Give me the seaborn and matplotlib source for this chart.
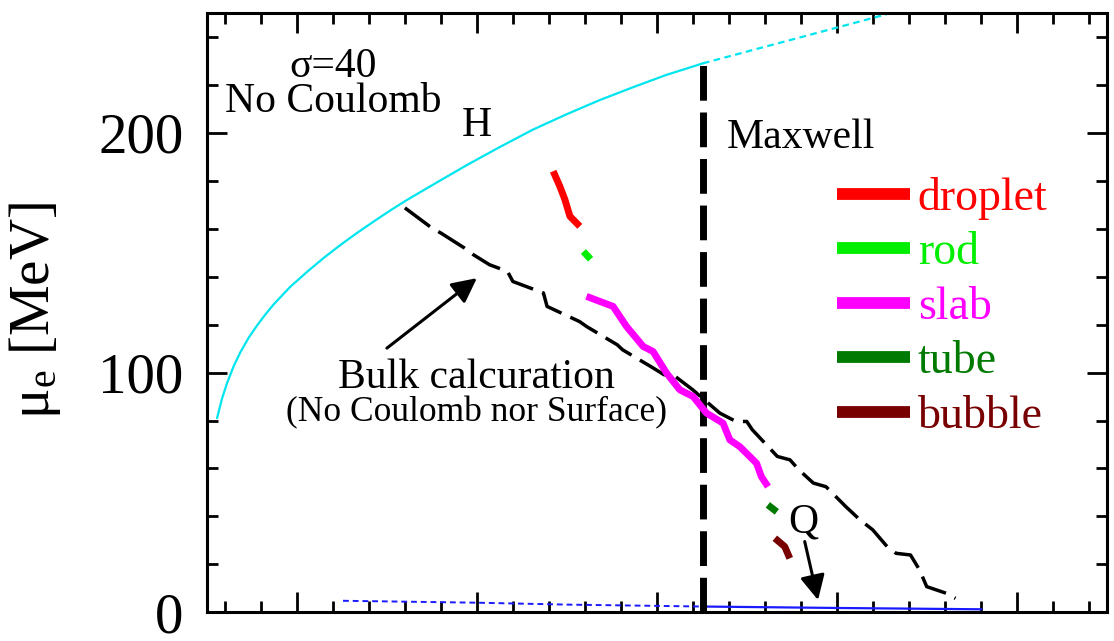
import matplotlib
matplotlib.use("Agg")
import matplotlib.pyplot as plt
from matplotlib.ticker import AutoMinorLocator
import seaborn as sns

# Hadronic branch (H), charge-neutral mu_e, and its metastable continuation
h_x = [0.556, 0.583, 0.611, 0.648, 0.685, 0.732, 0.778, 0.824, 0.870, 0.963, 1.056, 1.148,
       1.241, 1.333, 1.426, 1.518, 1.611, 1.80, 1.95, 2.12, 2.31, 2.50, 2.68, 2.87, 3.05, 3.256]
h_y = [81.0, 89.0, 95.5, 102.6, 108.4, 114.6, 119.6, 124.2, 128.4, 135.8, 142.0, 147.8,
       153.2, 158.2, 163.0, 167.6, 172.0, 180.3, 186.8, 193.8, 201.3, 207.8, 213.6, 219.1,
       224.1, 229.0]
h_ext_x = [3.256, 3.61, 4.00, 4.278]
h_ext_y = [229.0, 236.1, 243.9, 249.5]

# Quark branch (Q)
q_ext_x = [1.256, 2.00, 2.50, 3.256]
q_ext_y = [4.8, 4.0, 3.2, 2.4]
q_x = [3.256, 4.00, 4.804]
q_y = [2.4, 1.8, 1.25]

# Bulk calculation (no Coulomb, no surface)
bulk_x = [1.60, 1.75, 1.80, 1.93, 1.98, 2.07, 2.17, 2.20, 2.37, 2.39, 2.57, 2.61, 2.78, 2.81,
          2.98, 3.04, 3.09, 3.20, 3.35, 3.44, 3.50, 3.53, 3.67, 3.74, 3.79, 3.87, 3.94, 4.05,
          4.13, 4.20, 4.28, 4.33, 4.41, 4.46, 4.50, 4.61, 4.66]
bulk_y = [168.7, 160.3, 158.2, 152.0, 149.2, 145.0, 142.2, 138.0, 133.2, 127.6, 121.3, 119.2,
          111.6, 109.5, 101.9, 99.1, 99.1, 92.8, 83.1, 79.6, 79.6, 76.2, 65.0, 63.6, 59.4, 53.9,
          52.4, 44.1, 38.5, 34.4, 27.4, 24.6, 23.9, 17.7, 10.7, 7.9, 5.8]

# Maxwell construction density
maxwell_x = 3.256
maxwell_top = 229.0

# Pasta structures
droplet_x = [2.424, 2.461, 2.489, 2.517, 2.572]
droplet_y = [184.0, 177.7, 172.2, 165.2, 161.0]
rod_x = [2.592, 2.632]
rod_y = [150.5, 147.3]
slab_x = [2.609, 2.757, 2.832, 2.924, 2.979, 3.054, 3.128, 3.202, 3.276, 3.368, 3.406,
          3.461, 3.554, 3.581, 3.618]
slab_y = [131.8, 127.6, 119.2, 110.9, 108.8, 99.8, 92.8, 90.0, 83.1, 78.9, 71.9,
          69.1, 62.2, 56.6, 52.4]
tube_x = [3.617, 3.667]
tube_y = [44.8, 41.9]
bubble_x = [3.656, 3.711, 3.739]
bubble_y = [30.9, 27.4, 22.5]

phase_names = ["droplet", "rod", "slab", "tube", "bubble"]
phase_colors = ["#ff0000", "#00ee00", "#ff00ff", "#007a00", "#780000"]

sns.set_style("ticks")
plt.rcParams["font.family"] = ["Liberation Serif", "DejaVu Serif"]
plt.rcParams["mathtext.fontset"] = "custom"
plt.rcParams["mathtext.rm"] = "Liberation Serif"
plt.rcParams["mathtext.it"] = "Liberation Serif:italic"
plt.rcParams["mathtext.bf"] = "Liberation Serif:bold"
for key in ["text.color", "axes.labelcolor", "xtick.color", "ytick.color", "axes.edgecolor"]:
    plt.rcParams[key] = "black"

fig = plt.figure(figsize=(11.14, 6.41), dpi=100)
ax = fig.add_axes([0.1858, 0.0448, 0.8076, 0.9349])

# H branch
sns.lineplot(x=h_x, y=h_y, ax=ax, color="#00e5ee", lw=1.6, sort=False, estimator=None)
sns.lineplot(x=h_ext_x, y=h_ext_y, ax=ax, color="#00e5ee", lw=1.6, sort=False, estimator=None,
             linestyle=(0, (3, 2)))
# Q branch
sns.lineplot(x=q_ext_x, y=q_ext_y, ax=ax, color="#1a1aff", lw=1.4, sort=False, estimator=None,
             linestyle=(0, (3, 2)))
sns.lineplot(x=q_x, y=q_y, ax=ax, color="#1a1aff", lw=1.6, sort=False, estimator=None)

# Bulk
sns.lineplot(x=bulk_x, y=bulk_y, ax=ax, color="black", lw=2.5, sort=False, estimator=None,
             linestyle=(0, (9, 2.8)))

# Maxwell
sns.lineplot(x=[maxwell_x, maxwell_x], y=[0, maxwell_top], ax=ax, color="black", lw=5,
             sort=False, estimator=None, linestyle=(0, (5, 1.7)))

# Pasta
pasta = [(droplet_x, droplet_y), (rod_x, rod_y), (slab_x, slab_y), (tube_x, tube_y),
         (bubble_x, bubble_y)]
handles = []
for (px, py), name, col in zip(pasta, phase_names, phase_colors):
    sns.lineplot(x=px, y=py, ax=ax, color=col, lw=5, sort=False, estimator=None,
                 solid_capstyle="butt", label=name)
    handles.append(ax.lines[-1])

leg = ax.legend(handles, phase_names, loc="upper left", bbox_to_anchor=(0.700, 0.7264),
                frameon=False, fontsize=33, handlelength=1.59, handletextpad=0.175,
                labelspacing=0.26, borderpad=0, borderaxespad=0, labelcolor=phase_colors)
for ln in leg.get_lines():
    ln.set_linewidth(8.5)
    ln.set_solid_capstyle("butt")

# Annotations
ax.text(1.2, 223.1, "σ=40", fontsize=30, ha="center", va="baseline")
ax.text(1.2, 208.5, "No Coulomb", fontsize=30, ha="center", va="baseline")
ax.text(2.0, 198.5, "H", fontsize=30, ha="center", va="baseline")
ax.text(3.8, 193.7, "Maxwell", fontsize=30, ha="center", va="baseline")
ax.text(2.0, 93.5, "Bulk calcuration", fontsize=30, ha="center", va="baseline")
ax.text(2.0, 79.6, "(No Coulomb nor Surface)", fontsize=25.5, ha="center", va="baseline")
ax.text(3.728, 33.1, "Q", fontsize=30, ha="left", va="baseline")

ax.annotate("", xy=(2.0, 139.4), xytext=(1.5, 110.2),
            arrowprops=dict(arrowstyle="-|>,head_length=0.5,head_width=0.25", lw=2.2,
                            color="black", mutation_scale=30, shrinkA=0, shrinkB=0))
ax.annotate("", xy=(3.896, 5.1), xytext=(3.822, 29.5),
            arrowprops=dict(arrowstyle="-|>,head_length=0.5,head_width=0.25", lw=2.2,
                            color="black", mutation_scale=30, shrinkA=0, shrinkB=0))

# Axes
ax.set_xlim(0.5, 5.5)
ax.set_ylim(0, 250)
ax.set_xticks([1, 2, 3, 4, 5])
ax.set_yticks([0, 100, 200])
ax.xaxis.set_minor_locator(AutoMinorLocator(5))
ax.yaxis.set_minor_locator(AutoMinorLocator(5))
ax.tick_params(which="both", direction="in", top=True, right=True, labelbottom=False,
               width=2, color="black")
ax.tick_params(which="major", length=14.5)
ax.tick_params(which="minor", length=8)
ax.tick_params(axis="y", labelsize=41, pad=17)
for sp in ax.spines.values():
    sp.set_linewidth(2.2)
    sp.set_color("black")

ax.set_ylabel(r"$\mathrm{\mu_e}$ [MeV]", fontsize=41)
ax.yaxis.set_label_coords(-0.16, 0.504)
ax.set_xlabel("")

fig.savefig("out.png", dpi=100)
